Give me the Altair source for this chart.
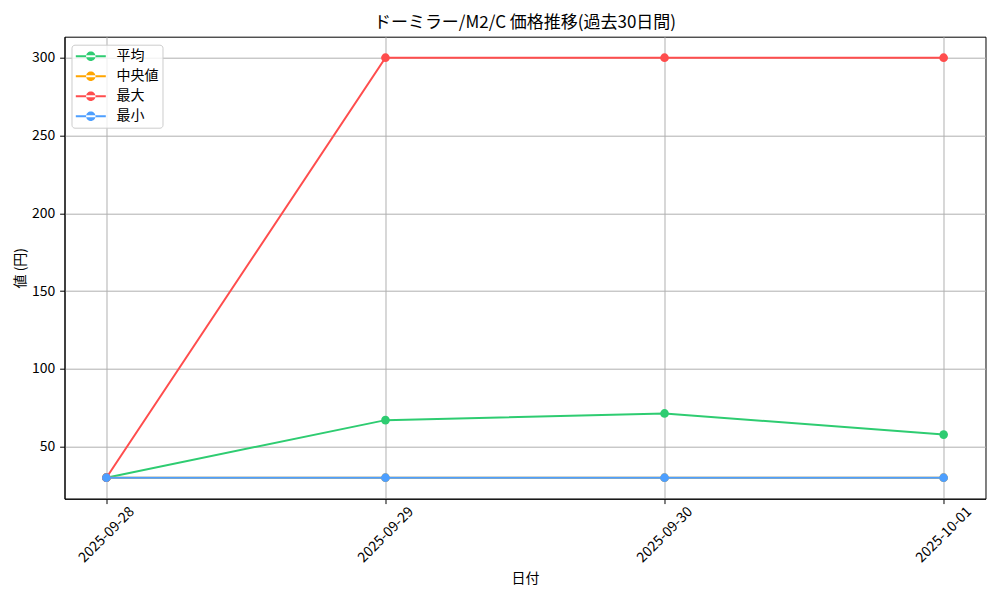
import altair as alt
import pandas as pd

dates = ["2025-09-28", "2025-09-29", "2025-09-30", "2025-10-01"]
avg_price = [30, 67.0, 71.3, 57.7]
median_price = [30, 30, 30, 30]
max_price = [30, 300, 300, 300]
min_price = [30, 30, 30, 30]

series_names = ["平均", "中央値", "最大", "最小"]
series_colors = ["#2ecc71", "#ffa500", "#ff4d4d", "#4d9fff"]
y_ticks = [50, 100, 150, 200, 250, 300]

rows = []
for name, values in zip(series_names, [avg_price, median_price, max_price, min_price]):
    for d, v in zip(dates, values):
        rows.append({"date": d, "series": name, "price": v})
df = pd.DataFrame(rows)

font = "Noto Sans CJK JP"

# line + dot legend symbol (filled shapes only)
legend_symbol = ("M-0.96,-0.13H3.04V0.13H-0.96Z "
                 "M0.41,0A0.63,0.63,0,1,0,1.67,0A0.63,0.63,0,1,0,0.41,0Z")

x_enc = alt.X("date:O", sort=dates,
              scale=alt.Scale(type="point", padding=0.15),
              axis=alt.Axis(title="日付", labelAngle=315, labelAlign="center",
                            labelBaseline="middle", labelPadding=31,
                            titleY=80, titleBaseline="middle"))
y_enc = alt.Y("price:Q",
              scale=alt.Scale(domain=[16.5, 313.5], nice=False, zero=False),
              axis=alt.Axis(title="値 (円)", values=y_ticks,
                            titleX=-44.5, titleY=231, titleBaseline="middle",
                            titleAlign="center"))
color_enc = alt.Color("series:N",
                      scale=alt.Scale(domain=series_names, range=series_colors),
                      legend=alt.Legend(title=None, orient="none",
                                        legendX=7, legendY=8,
                                        symbolType=legend_symbol, symbolSize=225,
                                        symbolStrokeWidth=0, labelOffset=26,
                                        rowPadding=5, padding=4,
                                        strokeColor="#cccccc",
                                        fillColor="rgba(255,255,255,0.8)",
                                        cornerRadius=3,
                                        labelFont=font, labelFontSize=14))

layers = []
for name in series_names:
    base = alt.Chart(df).transform_filter(alt.datum.series == name)
    layers.append(base.mark_line(strokeWidth=2).encode(x=x_enc, y=y_enc, color=color_enc))
    layers.append(base.mark_circle(size=75, opacity=1).encode(x=x_enc, y=y_enc, color=color_enc))

chart = alt.layer(*layers).properties(
    width=921,
    height=462,
    autosize=alt.AutoSizeParams(type="none"),
    padding={"left": 56.5, "top": 28.7, "right": 6, "bottom": 90},
    title=alt.TitleParams("ドーミラー/M2/C 価格推移(過去30日間)", font=font,
                          fontSize=17, fontWeight="normal", anchor="middle",
                          frame="group", offset=5, color="black"),
).configure_view(
    stroke="black", strokeWidth=1
).configure_axis(
    labelFont=font, labelFontSize=14, labelColor="black",
    titleFont=font, titleFontSize=14, titleFontWeight="normal", titleColor="black",
    grid=True, gridColor="#b0b0b0", gridWidth=1,
    domainColor="black", domainWidth=1,
    tickColor="black", tickSize=4.9, tickWidth=1, labelPadding=4.9
)

chart.save("out.html", embed_options={"renderer": "svg", "actions": False})
